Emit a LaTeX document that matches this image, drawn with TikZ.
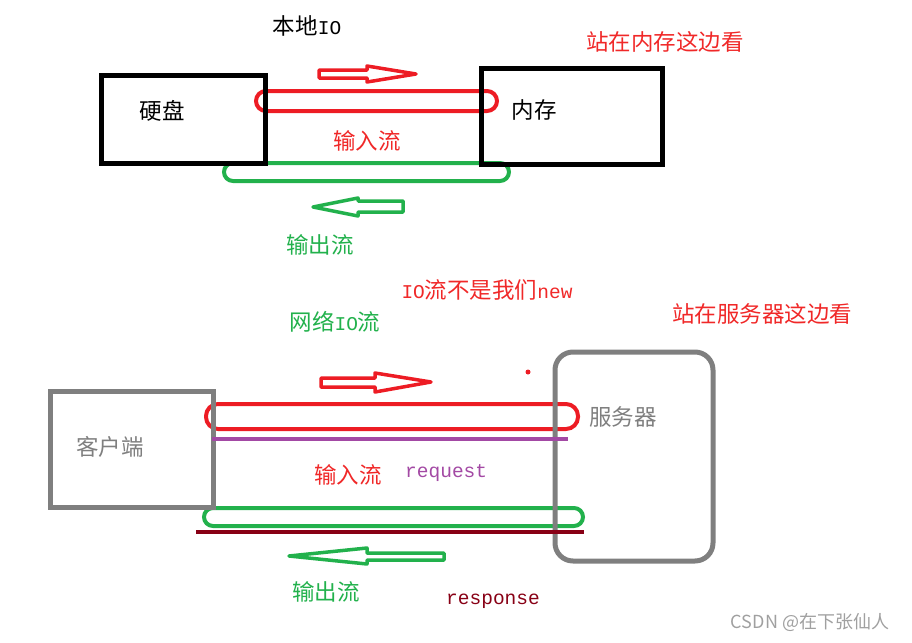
\documentclass[tikz,border=0pt]{standalone}
\usepackage{fontspec}
\setmainfont{Noto Sans CJK SC}
\newfontfamily\monofnt{Liberation Mono}
\newcommand\latx[1]{{\monofnt\fontsize{19.5}{21}\selectfont #1}}
\definecolor{pred}{HTML}{ED1C24}
\definecolor{pgreen}{HTML}{22B14C}
\definecolor{pgray}{HTML}{7F7F7F}
\definecolor{ppurple}{HTML}{A349A4}
\definecolor{pdark}{HTML}{880015}
\definecolor{tred}{HTML}{F02828}
\definecolor{tgreen}{HTML}{22B14C}
\definecolor{tpurple}{HTML}{A349A4}
\definecolor{wmgray}{HTML}{A0A0A0}
\begin{document}
\begin{tikzpicture}[x=1pt,y=-1pt,
  txt/.style={inner sep=0pt, font=\fontsize{22.5}{24}\selectfont},
  boxframe/.style={draw, line width=5pt, inner sep=0pt, outer sep=0pt, anchor=north west},
  pill/.style={line width=4pt},
  hollow/.style={line width=3.5pt, line join=round},
  flatline/.style={line width=4pt}
]
\useasboundingbox (0,0) rectangle (912,642);

% ---------- local IO ----------
\node[txt] (localio) at (307,26) {本地\latx{IO}};
\node[txt, text=tred] (memview) at (665,42) {站在内存这边看};

\draw[pill, pred, rounded corners=10pt] (256,91) rectangle (497,111);
\draw[pill, pgreen, rounded corners=9pt] (224,163) rectangle (509,181);

\node[boxframe, draw=black, minimum width=164pt, minimum height=88pt] (disk) at (101,75) {};
\node[boxframe, draw=black, minimum width=181pt, minimum height=96pt] (mem) at (481,68) {};
\node[txt] (disktxt) at (162,111) {硬盘};
\node[txt] (memtxt) at (534,110) {内存};

\draw[hollow, pred] (319,70) -- (367,70) -- (367,66) -- (416,74) -- (367,82) -- (367,78) -- (319,78) -- cycle;
\draw[hollow, pgreen] (403,201) -- (358,201) -- (358,198) -- (313,207) -- (358,216) -- (358,212) -- (403,212) -- cycle;

\node[txt, text=tred] (in1) at (367,141) {输入流};
\node[txt, text=tgreen] (out1) at (320,245) {输出流};

% ---------- network IO ----------
\node[txt, text=tred] (notnew) at (487,290) {\latx{IO}流不是我们\latx{new}};
\node[txt, text=tgreen] (netio) at (335,322) {网络\latx{IO}流};
\node[txt, text=tred] (srvview) at (762,314) {站在服务器这边看};

\fill[pred] (528,372) circle (2.5pt);

\draw[pill, pred, rounded corners=12pt] (206,404) rectangle (578,429);
\draw[pill, pgreen, rounded corners=9pt] (204,508) rectangle (583,526);

\node[boxframe, draw=pgray, minimum width=163pt, minimum height=116pt] (client) at (50,391) {};
\node[boxframe, draw=pgray, rounded corners=18pt, minimum width=158pt, minimum height=209pt] (server) at (555,352) {};
\node[txt, text=pgray] (clienttxt) at (110,447) {客户端};
\node[txt, text=pgray] (servertxt) at (623,417) {服务器};

\coordinate (pl) at (212,439);
\coordinate (pr) at (568,439);
\draw[flatline, ppurple] (pl) -- (pr);
\coordinate (dl) at (196,532);
\coordinate (dr) at (584,532);
\draw[flatline, pdark] (dl) -- (dr);

\draw[hollow, pred] (321,378) -- (375,378) -- (375,373) -- (431,382) -- (375,392) -- (375,387) -- (321,387) -- cycle;
\draw[hollow, pgreen] (444,553) -- (367,553) -- (367,548) -- (289,556) -- (367,564) -- (367,560) -- (444,560) -- cycle;

\node[txt, text=tred] (in2) at (348,475) {输入流};
\node[inner sep=0pt, text=tpurple, anchor=base west] (req) at (405,477) {\latx{request}};
\node[txt, text=tgreen] (out2) at (326,592) {输出流};
\node[inner sep=0pt, text=pdark, anchor=base west] (resp) at (446,604) {\latx{response}};

\node[inner sep=0pt, text=wmgray, font=\fontsize{18}{20}\selectfont] (wm) at (810,622) {CSDN @在下张仙人};
\end{tikzpicture}
\end{document}
